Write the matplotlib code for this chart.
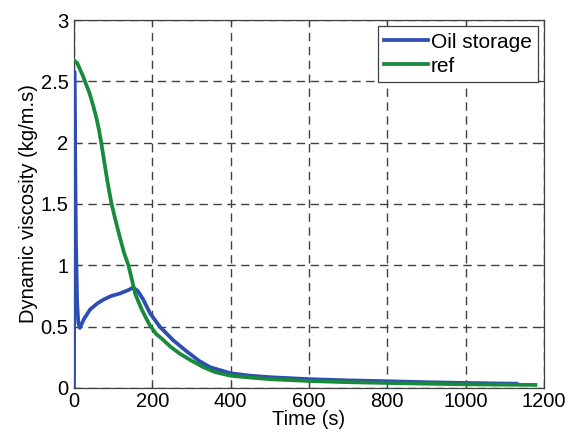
import numpy as np
import matplotlib
matplotlib.use('Agg')
import matplotlib.pyplot as plt

# ---------------------------------------------------------------
# Data
# ---------------------------------------------------------------
tOil = [0, 1, 3, 5, 8, 11, 15, 25, 41, 60, 75, 95, 117, 140, 151, 163, 177,
        194, 219, 253, 287, 320, 347, 400, 450, 500, 600, 700, 800, 900,
        1000, 1080, 1130]
muOil = [0.0, 2.58, 1.9, 1.2, 0.7, 0.53, 0.49, 0.56, 0.64, 0.69, 0.72, 0.75,
         0.77, 0.80, 0.82, 0.79, 0.72, 0.61, 0.50, 0.39, 0.30, 0.22, 0.17,
         0.12, 0.10, 0.088, 0.072, 0.062, 0.055, 0.047, 0.041, 0.037, 0.035]

tRef = [0, 8, 15, 22, 28, 40, 50, 58, 64, 69, 76, 83, 90, 96, 105, 117, 128,
        139, 148, 156, 165, 173, 184, 194, 210, 225, 245, 270, 296, 330, 360,
        400, 450, 500, 600, 700, 800, 900, 1000, 1100, 1178]
muRef = [2.67, 2.65, 2.60, 2.55, 2.50, 2.40, 2.29, 2.19, 2.10, 2.01, 1.87,
         1.73, 1.60, 1.50, 1.38, 1.23, 1.10, 1.00, 0.88, 0.77, 0.70, 0.64,
         0.57, 0.51, 0.44, 0.40, 0.34, 0.28, 0.23, 0.17, 0.13, 0.10, 0.085,
         0.072, 0.057, 0.047, 0.041, 0.035, 0.030, 0.027, 0.025]

xTicks = [0, 200, 400, 600, 800, 1000, 1200]
yTicks = [0, 0.5, 1, 1.5, 2, 2.5, 3]
yTickLabels = ['0', '0.5', '1', '1.5', '2', '2.5', '3']

# ---------------------------------------------------------------
# Figure
# ---------------------------------------------------------------
plt.rcParams['font.family'] = ['Liberation Sans', 'DejaVu Sans']

fig = plt.figure(figsize=(5.75, 4.32), dpi=100)
ax = fig.add_axes([0.1287, 0.1019, 0.8174, 0.8518])

ax.plot(tOil, muOil, color='#2d4db3', lw=2.7, label='Oil storage', zorder=3)
ax.plot(tRef, muRef, color='#178a3c', lw=2.7, label='ref', zorder=4)

ax.set_xlim(0, 1200)
ax.set_ylim(0, 3)
ax.set_xticks(xTicks)
ax.set_yticks(yTicks)
ax.set_yticklabels(yTickLabels)
ax.tick_params(direction='in', top=True, right=True, labelsize=14.5,
               length=4, width=0.8, color='#404040')
ax.tick_params(axis='x', pad=3)
ax.tick_params(axis='y', pad=4)

ax.grid(True, linestyle=(0, (6, 4)), color='#404040', lw=1.0)
ax.set_axisbelow(True)
for sp in ax.spines.values():
	sp.set_color('#404040')
	sp.set_linewidth(0.9)

ax.set_xlabel('Time (s)', fontsize=14.5, labelpad=-1)
ax.set_ylabel('Dynamic viscosity (kg/m.s)', fontsize=14.5, labelpad=2)

leg = ax.legend(loc='upper right', fontsize=15, handlelength=2.1,
                handletextpad=0.15, borderpad=0.3, labelspacing=0.25,
                fancybox=False, framealpha=1, borderaxespad=0.3)
leg.get_frame().set_edgecolor('#404040')
leg.get_frame().set_linewidth(0.9)

fig.savefig('out.png', dpi=100)
